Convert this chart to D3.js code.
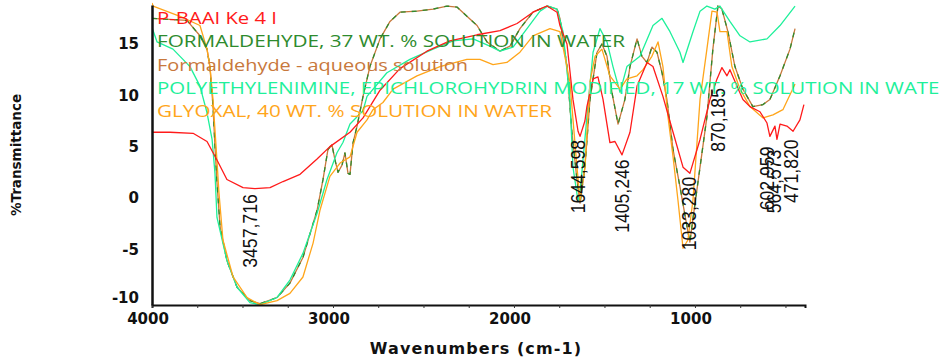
<!DOCTYPE html>
<html>
<head>
<meta charset="utf-8">
<title>FTIR spectra</title>
<style>
  body { margin: 0; background: #fff; }
  .tick-lab { font: bold 15px "DejaVu Sans", sans-serif; fill: #111; }
  .axis-title { font: bold 16px "DejaVu Sans", sans-serif; fill: #111; }
  .legend text { font: 16.5px "Open Sans", sans-serif; }
  .peak { font: 21px "Liberation Sans", sans-serif; fill: #111; }
  .spec { fill: none; stroke-width: 1.3px; stroke-linejoin: round; }
</style>
</head>
<body>
<div id="chart"></div>
<script src="https://cdn.jsdelivr.net/npm/d3@7"></script>
<script>
// spectra: [wavenumber cm-1, %T]
const baai = [[4000,6.4],[3901,6.4],[3773,6.3],[3696,5.5],[3641,3.7],[3586,1.8],[3497,1.0],[3431,0.9],[3348,1.0],[3276,1.6],[3182,2.3],[3088,3.8],[3017,5.0],[2906,6.4],[2834,7.8],[2740,10.5],[2630,12.6],[2481,14.3],[2354,15.3],[2204,15.9],[2077,16.3],[1983,17.0],[1895,18.1],[1818,18.7],[1762,18.1],[1746,16.8],[1707,15.0],[1674,9.6],[1646,6.5],[1635,6.0],[1608,7.5],[1597,8.9],[1563,11.6],[1536,11.8],[1508,9.6],[1470,5.4],[1442,5.5],[1403,4.2],[1359,6.4],[1320,10.9],[1265,13.2],[1232,12.8],[1177,9.9],[1121,6.4],[1066,3.0],[1028,2.4],[972,5.7],[917,9.6],[878,11.6],[851,12.7],[823,11.9],[807,12.5],[768,10.9],[735,9.6],[696,8.9],[641,8.4],[602,7.3],[586,6.0],[558,7.0],[547,5.7],[530,7.2],[492,7.0],[458,6.5],[420,7.6],[398,9.1]];

const formal37 = [[4000,17.5],[3807,17.3],[3735,15.8],[3696,14.5],[3680,12.8],[3663,9.0],[3652,5.0],[3641,1.5],[3624,-2.8],[3586,-6.1],[3530,-8.7],[3459,-10.0],[3403,-10.3],[3309,-9.7],[3238,-8.3],[3166,-5.8],[3088,-1.2],[3055,1.8],[3028,4.7],[3006,5.2],[2989,3.7],[2972,2.5],[2950,3.2],[2934,4.4],[2917,2.4],[2906,2.3],[2889,5.4],[2867,7.0],[2834,9.9],[2796,12.8],[2740,15.5],[2685,17.2],[2630,18.1],[2536,18.2],[2447,18.4],[2370,18.7],[2315,18.6],[2260,17.7],[2204,16.8],[2149,15.2],[2077,14.3],[2022,14.8],[1967,16.5],[1895,18.1],[1818,18.7],[1762,18.4],[1746,17.5],[1707,12.8],[1680,6.4],[1652,1.8],[1635,-0.5],[1608,3.0],[1580,9.6],[1541,14.2],[1514,15.0],[1486,13.8],[1459,10.3],[1425,7.2],[1387,9.6],[1359,12.8],[1320,15.5],[1293,13.8],[1265,13.2],[1238,14.7],[1210,14.2],[1182,12.2],[1155,9.6],[1121,4.7],[1083,1.1],[1044,-2.8],[1028,-4.3],[1011,-2.0],[972,3.0],[934,7.9],[901,14.5],[873,18.7],[851,18.4],[818,16.2],[779,12.8],[735,10.6],[680,8.9],[624,9.1],[586,9.6],[530,11.9],[475,14.5],[447,16.5]];

// the aqueous formaldehyde library spectrum overlaps the 37 wt.% one
const formalAq = formal37.map(d => [d[0], d[1]]);

const pei = [[4000,16.6],[3972,15.2],[3884,14.5],[3790,12.8],[3735,10.9],[3696,8.3],[3668,5.7],[3652,2.4],[3641,-1.9],[3586,-6.1],[3530,-8.7],[3459,-10.2],[3403,-10.4],[3309,-9.7],[3238,-8.0],[3166,-5.4],[3088,-1.5],[3033,1.8],[2978,4.4],[2945,5.4],[2906,7.2],[2834,8.5],[2812,9.9],[2702,12.2],[2575,13.5],[2447,14.5],[2337,15.3],[2226,15.5],[2133,14.8],[2077,14.3],[2005,14.7],[1928,16.5],[1856,18.2],[1812,18.7],[1762,18.4],[1729,16.2],[1691,9.6],[1674,3.0],[1646,-0.3],[1635,0.5],[1597,7.9],[1563,14.2],[1525,16.5],[1486,15.2],[1453,12.8],[1414,10.3],[1376,12.8],[1304,13.8],[1232,16.8],[1182,17.5],[1138,16.2],[1083,14.2],[1066,13.2],[1011,16.2],[972,18.2],[934,18.7],[890,18.4],[862,18.7],[807,17.2],[751,15.8],[696,15.2],[602,15.5],[530,16.8],[447,18.7]];

const glyoxal = [[4000,19.0],[3994,18.7],[3845,17.7],[3735,16.8],[3696,14.5],[3680,12.8],[3663,9.6],[3646,5.0],[3630,0.5],[3608,-4.1],[3552,-7.7],[3475,-9.7],[3403,-10.4],[3309,-10.0],[3238,-9.3],[3166,-7.7],[3110,-4.4],[3072,-1.2],[3017,2.1],[2961,3.4],[2906,4.0],[2867,6.4],[2812,7.6],[2779,8.6],[2724,9.3],[2668,10.6],[2536,11.9],[2409,12.8],[2260,13.5],[2188,13.5],[2116,13.0],[2039,13.2],[1967,14.2],[1895,15.8],[1801,16.5],[1746,16.2],[1691,11.3],[1652,3.0],[1635,-0.2],[1608,3.0],[1580,11.3],[1552,13.8],[1514,14.5],[1470,11.9],[1414,10.6],[1376,11.6],[1320,11.9],[1287,12.5],[1238,13.8],[1204,15.2],[1177,12.8],[1149,7.9],[1121,4.0],[1094,-0.2],[1066,-4.9],[1039,-4.1],[1011,-0.2],[972,9.6],[934,14.5],[906,18.2],[878,18.1],[862,16.2],[823,16.2],[796,12.8],[751,10.6],[696,8.9],[624,7.8],[569,8.1],[514,8.6],[447,11.1]];

const seriesNames = [
  "P-BAAI Ke 4 I",
  "FORMALDEHYDE, 37 WT. % SOLUTION IN WATER",
  "Formaldehyde - aqueous solution",
  "POLYETHYLENIMINE, EPICHLOROHYDRIN MODIFIED, 17 WT. % SOLUTION IN WATER",
  "GLYOXAL, 40 WT. % SOLUTION IN WATER"
];
const seriesColors = ["#ff1a1a", "#2e8b2e", "#c8783c", "#1ef09a", "#ffa51a"];

// peak picks: wavenumber, label, %T where the label starts
const peakWn = [3457.716, 1644.598, 1405.246, 1033.280, 870.185, 602.959, 564.573, 471.820];
const peakText = ["3457,716", "1644,598", "1405,246", "1033,280", "870,185", "602,959", "564,573", "471,820"];
const peakBase = [-6.8, -1.5, -3.4, -5.1, 4.5, -1.2, -1.5, -0.5];

const xTicks = [4000, 3000, 2000, 1000];
const xMinor = d3.range(4000, 390, -250);
const yTicks = [15, 10, 5, 0, -5, -10];

const W = 939, H = 360;
const m = { left: 152, right: 134, top: 5, bottom: 55 };
// the instrument software draws its legend in a wide face; stretch each line to its width
const legendWidth = [120, 468, 311, 795, 395];

const svg = d3.select("#chart").append("svg")
  .attr("width", W).attr("height", H);

const x = d3.scaleLinear().domain([4000, 392]).range([m.left, W - m.right]);
const y = d3.scaleLinear().domain([-10.43, 18.8]).range([H - m.bottom, m.top]);

svg.append("defs").append("clipPath").attr("id", "plot")
  .append("rect")
  .attr("x", m.left).attr("y", 0)
  .attr("width", W - m.right - m.left + 2).attr("height", H - m.bottom);

const line = d3.line().x(d => x(d[0])).y(d => y(d[1]));

const plot = svg.append("g").attr("clip-path", "url(#plot)");

// draw order: formaldehyde pair, PEI, glyoxal, sample
plot.append("path").datum(formalAq).attr("class", "spec")
  .attr("stroke", seriesColors[2]).attr("d", line);
plot.append("path").datum(formal37).attr("class", "spec")
  .attr("stroke", seriesColors[1]).attr("stroke-dasharray", "5,6").attr("d", line);
plot.append("path").datum(pei).attr("class", "spec")
  .attr("stroke", seriesColors[3]).attr("d", line);
plot.append("path").datum(glyoxal).attr("class", "spec")
  .attr("stroke", seriesColors[4]).attr("d", line);
plot.append("path").datum(baai).attr("class", "spec")
  .attr("stroke", seriesColors[0]).attr("d", line);

// axes
const xAxis = svg.append("g").attr("transform", `translate(0,${H - m.bottom})`)
  .call(d3.axisBottom(x).tickValues(xMinor).tickSize(3).tickFormat(""));
xAxis.select(".domain").attr("stroke", "#111").attr("stroke-width", 2);
xAxis.selectAll(".tick line").attr("stroke", "#333");

svg.append("g").selectAll("text").data(xTicks).join("text")
  .attr("class", "tick-lab")
  .attr("x", d => x(d) - 4)
  .attr("y", H - m.bottom + 19)
  .attr("text-anchor", "middle")
  .text(d => d);

const yAxis = svg.append("g").attr("transform", `translate(${m.left},0)`)
  .call(d3.axisLeft(y).tickValues([]).tickSizeOuter(0));
yAxis.select(".domain").attr("stroke", "#111").attr("stroke-width", 2.5);

svg.append("g").selectAll("text").data(yTicks).join("text")
  .attr("class", "tick-lab")
  .attr("x", 139)
  .attr("y", d => y(d) - (d === -10 ? 3 : 0))
  .attr("dy", "0.36em")
  .attr("text-anchor", "end")
  .text(d => d);

svg.append("text").attr("class", "axis-title")
  .attr("x", 476).attr("y", 354)
  .attr("text-anchor", "middle")
  .style("letter-spacing", "1.1px")
  .text("Wavenumbers (cm-1)");

svg.append("text").attr("class", "axis-title")
  .attr("transform", "translate(21,155) rotate(-90)")
  .attr("text-anchor", "middle")
  .style("font-size", "13.5px")
  .text("%Transmittance");

// peak labels, condensed like the instrument's narrow font
svg.append("g").selectAll("text").data(peakWn).join("text")
  .attr("class", "peak")
  .attr("transform", (d, i) => `translate(${x(d) + 7},${y(peakBase[i])}) rotate(-90) scale(0.84,1)`)
  .text((d, i) => peakText[i]);

// legend (names stacked top-left, coloured like the traces)
svg.append("g").attr("class", "legend").selectAll("text").data(seriesNames).join("text")
  .attr("x", 157)
  .attr("y", (d, i) => 24 + i * 23.3)
  .attr("fill", (d, i) => seriesColors[i])
  .attr("textLength", (d, i) => legendWidth[i])
  .attr("lengthAdjust", "spacingAndGlyphs")
  .text(d => d);
</script>
</body>
</html>
